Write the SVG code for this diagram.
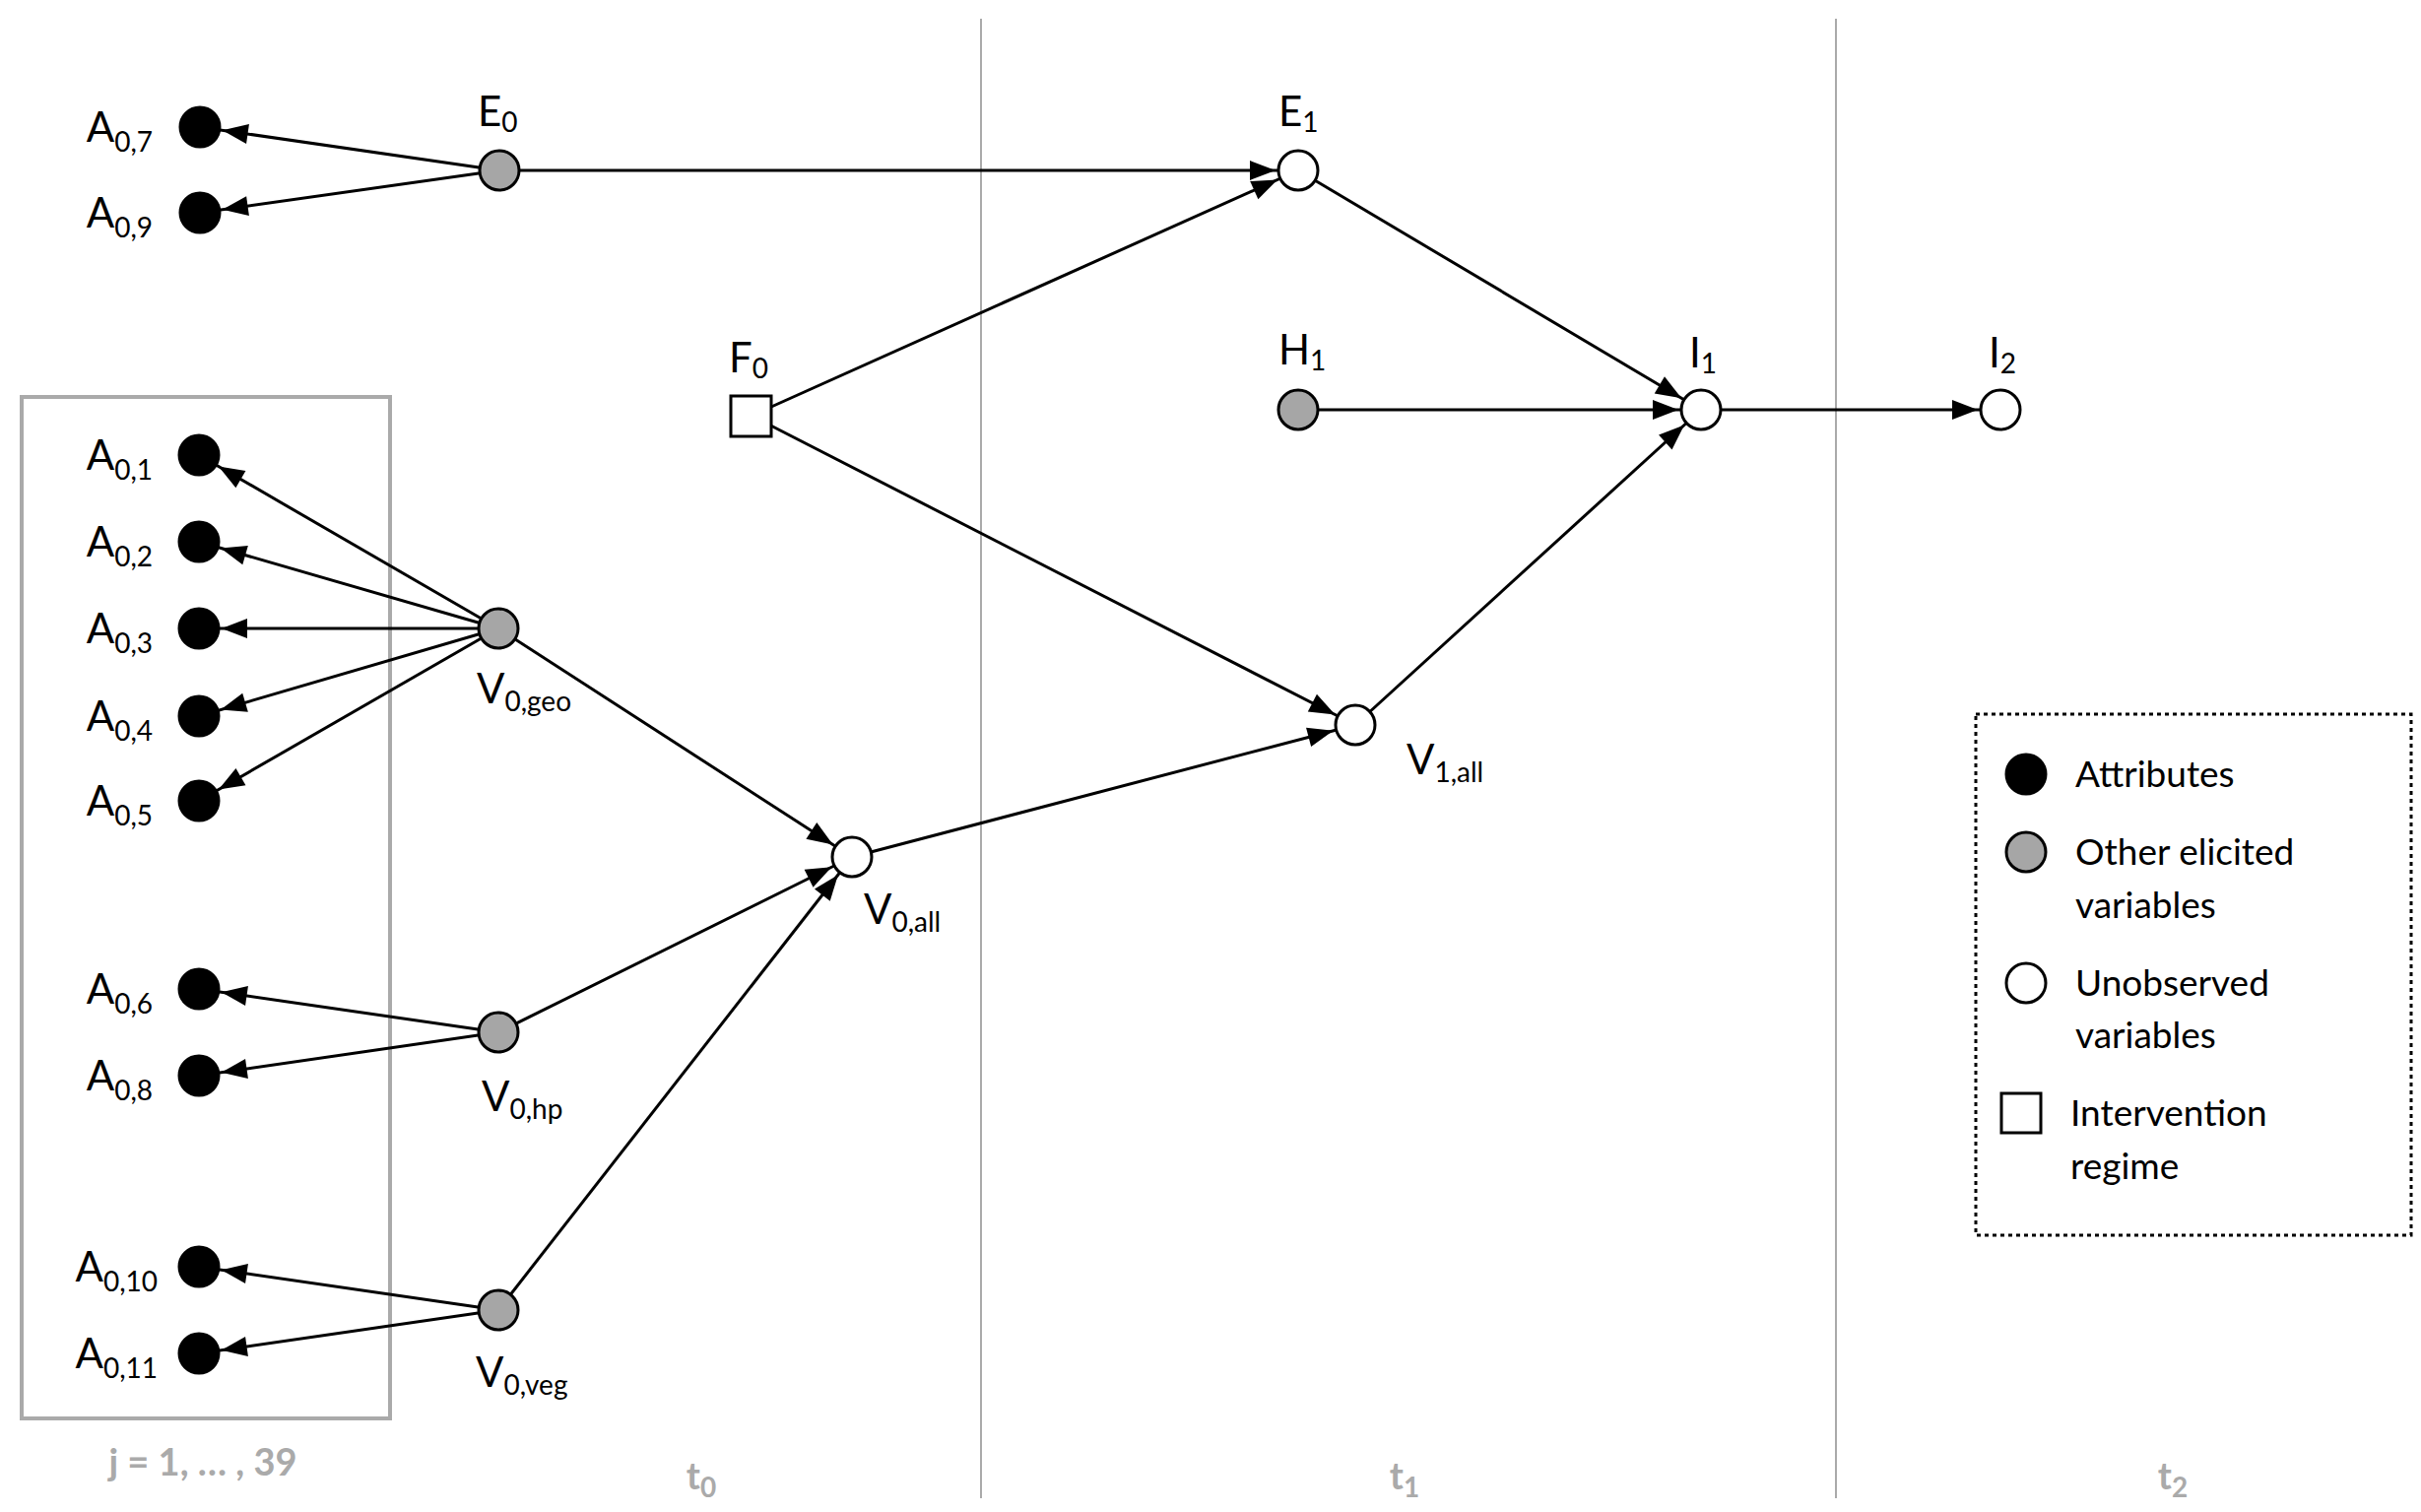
<svg xmlns="http://www.w3.org/2000/svg" width="2458" height="1535" viewBox="0 0 2458 1535">
<style>
text{font-family:Lato,"Open Sans","DejaVu Sans",sans-serif;fill:#000}
.lbl{font-size:42px}
.sub{font-size:28px}
.leg{font-size:37px}
.tl{font-size:38px;font-weight:bold;fill:#aaa}
.att{fill:#000;stroke:#000;stroke-width:3}
.oth{fill:#a6a6a6;stroke:#000;stroke-width:3}
.un{fill:#fff;stroke:#000;stroke-width:3}
.e{stroke:#000;stroke-width:3;fill:none;marker-end:url(#ah)}
</style>
<defs>
<marker id="ah" markerUnits="userSpaceOnUse" markerWidth="60" markerHeight="30" viewBox="-30 -15 60 30" refX="23" refY="0" orient="auto" overflow="visible">
<path d="M-26,-10 L0,0 L-26,10 z" fill="#000"/>
</marker>
</defs>
<rect width="2458" height="1535" fill="#fff"/>
<g id="timeline">
<line x1="996" y1="19" x2="996" y2="1521" stroke="#aaa" stroke-width="2"/>
<line x1="1864" y1="19" x2="1864" y2="1521" stroke="#aaa" stroke-width="2"/>
<rect x="22" y="403" width="374" height="1037" fill="none" stroke="#aaa" stroke-width="4"/>
<text class="tl" x="206" y="1498" text-anchor="middle">j = 1, … , 39</text>
<text class="tl" x="712" y="1512" text-anchor="middle">t<tspan class="sub" dy="8">0</tspan></text>
<text class="tl" x="1426" y="1512" text-anchor="middle">t<tspan class="sub" dy="8">1</tspan></text>
<text class="tl" x="2206" y="1512" text-anchor="middle">t<tspan class="sub" dy="8">2</tspan></text>
</g>
<g id="connectors">
<line class="e" x1="507" y1="173" x2="203" y2="129"/>
<line class="e" x1="507" y1="173" x2="203" y2="216"/>
<line class="e" x1="507" y1="173" x2="1318" y2="173"/>
<line class="e" x1="763" y1="422" x2="1318" y2="173"/>
<line class="e" x1="763" y1="422" x2="1376" y2="736"/>
<line class="e" x1="1318" y1="173" x2="1727" y2="416"/>
<line class="e" x1="1318" y1="416" x2="1727" y2="416"/>
<line class="e" x1="1376" y1="736" x2="1727" y2="416"/>
<line class="e" x1="1727" y1="416" x2="2031" y2="416"/>
<line class="e" x1="865" y1="870" x2="1376" y2="736"/>
<line class="e" x1="506" y1="638" x2="865" y2="870"/>
<line class="e" x1="506" y1="1048" x2="865" y2="870"/>
<line class="e" x1="506" y1="1330" x2="865" y2="870"/>
<line class="e" x1="506" y1="638" x2="202" y2="462"/>
<line class="e" x1="506" y1="638" x2="202" y2="550"/>
<line class="e" x1="506" y1="638" x2="202" y2="638"/>
<line class="e" x1="506" y1="638" x2="202" y2="727"/>
<line class="e" x1="506" y1="638" x2="202" y2="813"/>
<line class="e" x1="506" y1="1048" x2="202" y2="1004"/>
<line class="e" x1="506" y1="1048" x2="202" y2="1092"/>
<line class="e" x1="506" y1="1330" x2="202" y2="1286"/>
<line class="e" x1="506" y1="1330" x2="202" y2="1374"/>
</g>
<g id="A07"><circle class="att" cx="203" cy="129" r="20"/><text class="lbl" x="155" y="144" text-anchor="end">A<tspan class="sub" dy="10">0,7</tspan></text></g>
<g id="A09"><circle class="att" cx="203" cy="216" r="20"/><text class="lbl" x="155" y="231" text-anchor="end">A<tspan class="sub" dy="10">0,9</tspan></text></g>
<g id="A01"><circle class="att" cx="202" cy="462" r="20"/><text class="lbl" x="155" y="477" text-anchor="end">A<tspan class="sub" dy="10">0,1</tspan></text></g>
<g id="A02"><circle class="att" cx="202" cy="550" r="20"/><text class="lbl" x="155" y="565" text-anchor="end">A<tspan class="sub" dy="10">0,2</tspan></text></g>
<g id="A03"><circle class="att" cx="202" cy="638" r="20"/><text class="lbl" x="155" y="653" text-anchor="end">A<tspan class="sub" dy="10">0,3</tspan></text></g>
<g id="A04"><circle class="att" cx="202" cy="727" r="20"/><text class="lbl" x="155" y="742" text-anchor="end">A<tspan class="sub" dy="10">0,4</tspan></text></g>
<g id="A05"><circle class="att" cx="202" cy="813" r="20"/><text class="lbl" x="155" y="828" text-anchor="end">A<tspan class="sub" dy="10">0,5</tspan></text></g>
<g id="A06"><circle class="att" cx="202" cy="1004" r="20"/><text class="lbl" x="155" y="1019" text-anchor="end">A<tspan class="sub" dy="10">0,6</tspan></text></g>
<g id="A08"><circle class="att" cx="202" cy="1092" r="20"/><text class="lbl" x="155" y="1107" text-anchor="end">A<tspan class="sub" dy="10">0,8</tspan></text></g>
<g id="A010"><circle class="att" cx="202" cy="1286" r="20"/><text class="lbl" x="160" y="1301" text-anchor="end">A<tspan class="sub" dy="10">0,10</tspan></text></g>
<g id="A011"><circle class="att" cx="202" cy="1374" r="20"/><text class="lbl" x="160" y="1389" text-anchor="end">A<tspan class="sub" dy="10">0,11</tspan></text></g>
<g id="E0"><circle class="oth" cx="507" cy="173" r="20"/><text class="lbl" x="485" y="128">E<tspan class="sub" dy="6">0</tspan></text></g>
<g id="E1"><circle class="un" cx="1318" cy="173" r="20"/><text class="lbl" x="1298" y="128">E<tspan class="sub" dy="6">1</tspan></text></g>
<g id="F0"><rect x="742" y="402" width="41" height="41" fill="#fff" stroke="#000" stroke-width="3"/><text class="lbl" x="740" y="378">F<tspan class="sub" dy="6">0</tspan></text></g>
<g id="H1"><circle class="oth" cx="1318" cy="416" r="20"/><text class="lbl" x="1298" y="370">H<tspan class="sub" dy="6">1</tspan></text></g>
<g id="I1"><circle class="un" cx="1727" cy="416" r="20"/><text class="lbl" x="1715" y="373">I<tspan class="sub" dy="6">1</tspan></text></g>
<g id="I2"><circle class="un" cx="2031" cy="416" r="20"/><text class="lbl" x="2019" y="373">I<tspan class="sub" dy="6">2</tspan></text></g>
<g id="V1all"><circle class="un" cx="1376" cy="736" r="20"/><text class="lbl" x="1428" y="786">V<tspan class="sub" dy="8">1,all</tspan></text></g>
<g id="V0all"><circle class="un" cx="865" cy="870" r="20"/><text class="lbl" x="877" y="938">V<tspan class="sub" dy="8">0,all</tspan></text></g>
<g id="V0geo"><circle class="oth" cx="506" cy="638" r="20"/><text class="lbl" x="484" y="714">V<tspan class="sub" dy="8">0,geo</tspan></text></g>
<g id="V0hp"><circle class="oth" cx="506" cy="1048" r="20"/><text class="lbl" x="489" y="1128">V<tspan class="sub" dy="8">0,hp</tspan></text></g>
<g id="V0veg"><circle class="oth" cx="506" cy="1330" r="20"/><text class="lbl" x="483" y="1408">V<tspan class="sub" dy="8">0,veg</tspan></text></g>
<g id="legend">
<rect x="2006" y="725" width="442" height="529" fill="none" stroke="#000" stroke-width="3" stroke-dasharray="4,4"/>
<circle class="att" cx="2057" cy="786" r="20"/><text class="leg" x="2107" y="799">Attributes</text>
<circle class="oth" cx="2057" cy="865" r="20"/><text class="leg" x="2107" y="878">Other elicited</text><text class="leg" x="2107" y="932">variables</text>
<circle class="un" cx="2057" cy="998" r="20"/><text class="leg" x="2107" y="1011">Unobserved</text><text class="leg" x="2107" y="1064">variables</text>
<rect x="2032" y="1110" width="40" height="40" fill="#fff" stroke="#000" stroke-width="3"/><text class="leg" x="2102" y="1143">Intervention</text><text class="leg" x="2102" y="1197">regime</text>
</g>
</svg>
